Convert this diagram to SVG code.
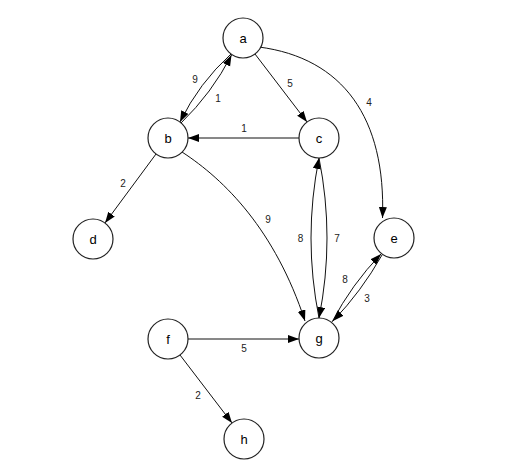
<svg xmlns="http://www.w3.org/2000/svg" width="507" height="474" viewBox="0 0 507 474">
<defs>
<marker id="arr" markerUnits="userSpaceOnUse" markerWidth="12" markerHeight="9" refX="11" refY="4" orient="auto">
<path d="M0,0 L11,4 L0,8 z" fill="#000"/>
</marker>
<style>
.node circle{fill:#fff;stroke:#222;stroke-width:1.2}
.node text{font-family:"Liberation Sans",Arial,sans-serif;font-size:13px;fill:#000;text-anchor:middle}
.edge{fill:none;stroke:#111;stroke-width:1;marker-end:url(#arr)}
.lbl{font-family:"Liberation Sans",Arial,sans-serif;font-size:10px;fill:#222;text-anchor:middle}
</style>
</defs>
<rect width="507" height="474" fill="#fff"/>
<g id="connectors">
<path class="edge" d="M231 54 Q199 83 180 122"/>
<path class="edge" d="M181 123 Q212 93 231.5 55"/>
<path class="edge" d="M255 54 L307 122"/>
<path class="edge" d="M259 47 C343 58 386 118 382.5 218"/>
<path class="edge" d="M299 138 L188 138"/>
<path class="edge" d="M156 154 L105 223"/>
<path class="edge" d="M182 152 C225 180 275 230 305 321"/>
<path class="edge" d="M319 318 Q303 238 319 158"/>
<path class="edge" d="M319 158 Q335 238 319 318"/>
<path class="edge" d="M332 322 Q351.7 284.4 381 254"/>
<path class="edge" d="M382 255 Q361.3 291.6 333 321"/>
<path class="edge" d="M188 339 L299 339"/>
<path class="edge" d="M180 355 L232 423"/>
<text class="lbl" x="195" y="83">9</text>
<text class="lbl" x="218" y="102">1</text>
<text class="lbl" x="290" y="86.5">5</text>
<text class="lbl" x="244" y="132">1</text>
<text class="lbl" x="369" y="105.5">4</text>
<text class="lbl" x="123" y="186.5">2</text>
<text class="lbl" x="268" y="222.5">9</text>
<text class="lbl" x="300.5" y="242">8</text>
<text class="lbl" x="337" y="242">7</text>
<text class="lbl" x="345" y="283">8</text>
<text class="lbl" x="367" y="301.5">3</text>
<text class="lbl" x="244" y="352">5</text>
<text class="lbl" x="198" y="398.5">2</text>
</g>
<g id="node-a" class="node"><circle cx="243" cy="38" r="20"/><text x="243" y="42.5">a</text></g>
<g id="node-b" class="node"><circle cx="168" cy="138" r="20"/><text x="168" y="142.5">b</text></g>
<g id="node-c" class="node"><circle cx="319" cy="138" r="20"/><text x="319" y="142.5">c</text></g>
<g id="node-d" class="node"><circle cx="93" cy="239" r="20"/><text x="93" y="243.5">d</text></g>
<g id="node-e" class="node"><circle cx="394" cy="238" r="20"/><text x="394" y="242.5">e</text></g>
<g id="node-f" class="node"><circle cx="168" cy="339" r="20"/><text x="168" y="343.5">f</text></g>
<g id="node-g" class="node"><circle cx="319" cy="338" r="20"/><text x="319" y="342.5">g</text></g>
<g id="node-h" class="node"><circle cx="244" cy="439" r="20"/><text x="244" y="443.5">h</text></g>
</svg>
